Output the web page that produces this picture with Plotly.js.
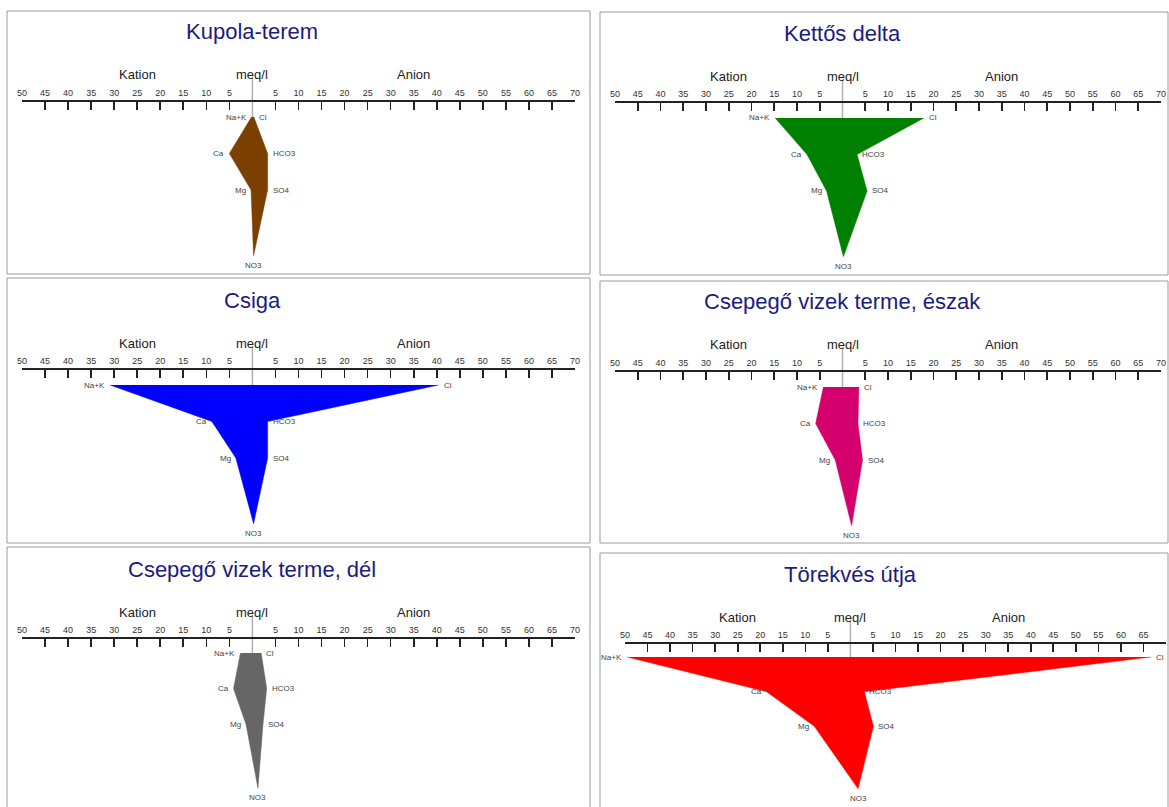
<!DOCTYPE html>
<html>
<head>
<meta charset="utf-8">
<script src="https://cdn.plot.ly/plotly-3.0.1.min.js"></script>
<style>html,body{margin:0;padding:0;background:#fff;}#chart{width:1169px;height:807px;}</style>
</head>
<body>
<div id="chart"></div>
<script>
// ---- data (meq/l) ----
const sites = ["Kupola-terem", "Kettős delta", "Csiga", "Csepegő vizek terme, észak", "Csepegő vizek terme, dél", "Törekvés útja"];
const cationNames = ["Na+K", "Ca", "Mg"];
const anionNames = ["Cl", "HCO3", "SO4", "NO3"];
const naK  = [0.2, 14.8, 30.9, 4.2, 2.6, 49.5];
const ca   = [5.0, 7.8, 8.8, 5.9, 4.1, 18.6];
const mg   = [0.3, 3.5, 3.6, 1.6, 1.4, 8.0];
const cl   = [0.3, 17.9, 40.4, 3.6, 1.9, 66.7];
const hco3 = [3.3, 3.2, 3.3, 3.4, 3.1, 3.1];
const so4  = [3.3, 5.4, 3.3, 4.4, 2.3, 5.1];
const no3  = [0.25, 0.2, 0.25, 2.0, 1.2, 1.7];
const colors = ["#7b3f00", "#008000", "#0000ff", "#d4006e", "#666666", "#ff0000"];
const tickValues = [-50,-45,-40,-35,-30,-25,-20,-15,-10,-5,5,10,15,20,25,30,35,40,45,50,55,60,65,70];
const tickLabels = tickValues.map(v => String(Math.abs(v)));

// ---- layout geometry (pixels) ----
const W = 1169, H = 807;
const fx = px => px / W;
const fy = py => 1 - py / H;
const rowPos = [0, 1, 2, 3.8];            // row index positions (Na+K/Cl, Ca/HCO3, Mg/SO4, NO3)
const geo = [
  {x0: 22,  x1: 575,  top: 11,  box: [7, 11, 590, 274]},
  {x0: 615, x1: 1161, top: 12,  box: [600, 12, 1168, 275]},
  {x0: 22,  x1: 575,  top: 279, box: [7, 278, 590, 543]},
  {x0: 615, x1: 1161, top: 281, box: [600, 281, 1168, 543]},
  {x0: 22,  x1: 575,  top: 548, box: [7, 547, 590, 830]},
  {x0: 625, x1: 1166, top: 553, box: [600, 553, 1168, 830]}
];
const pitch = 36.5, rowOff = 106, plotTopOff = 68, plotBotOff = 264, axisOff = 90;

const traces = [];
const layout = {
  width: W, height: H,
  margin: {l: 0, r: 0, t: 0, b: 0},
  paper_bgcolor: "#fff", plot_bgcolor: "rgba(0,0,0,0)",
  showlegend: false,
  font: {family: "Liberation Sans, Arial, sans-serif", color: "#333"},
  annotations: [], shapes: []
};
const ionFont = {size: 8, color: "#444", family: "Liberation Sans, Arial, sans-serif"};

sites.forEach((name, i) => {
  const g = geo[i];
  const s = i === 0 ? "" : String(i + 1);
  const xa = "x" + s, ya = "y" + s;
  const yTop = (plotTopOff - rowOff) / pitch;
  const yBot = (plotBotOff - rowOff) / pitch;

  layout["xaxis" + s] = {
    domain: [fx(g.x0), fx(g.x1)], range: [-50, 70],
    anchor: "free", position: fy(g.top + axisOff), side: "top",
    showline: true, linecolor: "#222", linewidth: 2,
    ticks: "inside", ticklen: 8, tickwidth: 1.6, tickcolor: "#222",
    tickmode: "array", tickvals: tickValues, ticktext: tickLabels,
    tickfont: {size: 9, color: "#333"},
    showgrid: false, zeroline: false, fixedrange: true
  };
  layout["yaxis" + s] = {
    domain: [fy(g.top + plotBotOff), fy(g.top + plotTopOff)],
    range: [yBot, yTop], visible: false, showgrid: false, zeroline: false, fixedrange: true
  };

  // zero reference line
  traces.push({type: "scatter", mode: "lines", x: [0, 0], y: [yTop, rowPos[0]],
    xaxis: xa, yaxis: ya, line: {color: "#b0b0b0", width: 1.5}, hoverinfo: "skip"});

  // Stiff polygon
  const px = [-naK[i], -ca[i], -mg[i], no3[i], so4[i], hco3[i], cl[i]];
  const py = [rowPos[0], rowPos[1], rowPos[2], rowPos[3], rowPos[2], rowPos[1], rowPos[0]];
  traces.push({type: "scatter", mode: "lines", x: px, y: py, fill: "toself",
    fillcolor: colors[i], line: {color: colors[i], width: 0.5}, xaxis: xa, yaxis: ya});

  // ion labels
  const catVals = [naK[i], ca[i], mg[i]];
  const anVals = [cl[i], hco3[i], so4[i]];
  cationNames.forEach((t, k) => {
    layout.annotations.push({xref: xa, yref: ya, x: -catVals[k], y: rowPos[k], text: t,
      showarrow: false, xanchor: "right", yanchor: "middle", xshift: -3, font: ionFont});
  });
  anionNames.slice(0, 3).forEach((t, k) => {
    layout.annotations.push({xref: xa, yref: ya, x: anVals[k], y: rowPos[k], text: t,
      showarrow: false, xanchor: "left", yanchor: "middle", xshift: 3, font: ionFont});
  });
  layout.annotations.push({xref: xa, yref: ya, x: no3[i], y: rowPos[3], text: anionNames[3],
    showarrow: false, xanchor: "center", yanchor: "top", yshift: -3, font: ionFont});

  // title and header labels
  layout.annotations.push({xref: xa, yref: "paper", x: 0, y: fy(g.top + 21), text: name,
    showarrow: false, xanchor: "center", yanchor: "middle", font: {size: 22, color: "#1c1c80"}});
  [["Kation", -25], ["meq/l", 0], ["Anion", 35]].forEach(([t, xv]) => {
    layout.annotations.push({xref: xa, yref: "paper", x: xv, y: fy(g.top + 64), text: t,
      showarrow: false, xanchor: "center", yanchor: "middle", font: {size: 13, color: "#222"}});
  });

  // panel frame
  layout.shapes.push({type: "rect", xref: "paper", yref: "paper",
    x0: fx(g.box[0]), x1: fx(g.box[2]), y0: fy(g.box[3]), y1: fy(g.box[1]),
    line: {color: "#9a9a9a", width: 1}, fillcolor: "rgba(0,0,0,0)", layer: "below"});
});

Plotly.newPlot("chart", traces, layout, {displayModeBar: false, staticPlot: true});
</script>
</body>
</html>
